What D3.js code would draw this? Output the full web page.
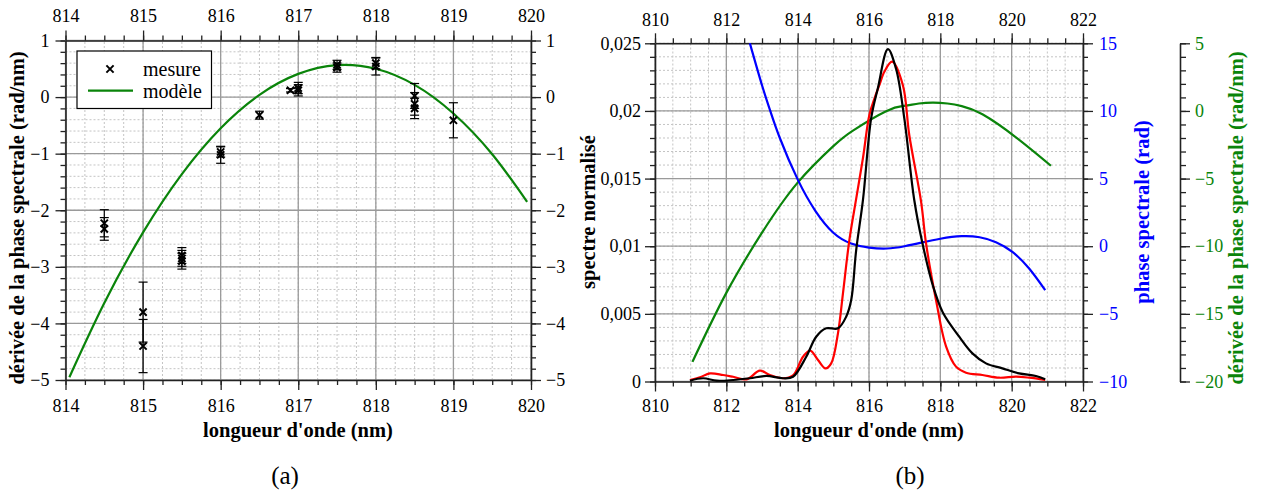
<!DOCTYPE html>
<html><head><meta charset="utf-8">
<script src="https://cdn.jsdelivr.net/npm/d3@7"></script>
<style>
body{margin:0;background:#fff;}
svg text{font-family:"Liberation Serif","Tinos","DejaVu Serif","Times New Roman",Times,serif;}
</style></head><body>
<svg id="c" width="1262" height="493" font-family="Liberation Serif, Tinos, DejaVu Serif, serif"></svg>
<script>
// ---------- Panel (a) data ----------
const mesureLambda = [814.5, 814.5, 815, 815, 815.5, 815.5, 815.5, 816, 816, 816.5, 816.9, 817, 817, 817.5, 817.5, 818, 818, 818.5, 818.5, 818.5, 819];
const mesureDeriv  = [-2.23, -2.33, -3.8, -4.4, -2.8, -2.85, -2.9, -0.97, -1.02, -0.32, 0.12, 0.12, 0.16, 0.52, 0.57, 0.54, 0.6, 0.02, -0.12, -0.2, -0.41];
const mesureErr    = [0.24, 0.2, 0.53, 0.47, 0.14, 0.14, 0.14, 0.09, 0.15, 0.07, 0.03, 0.1, 0.1, 0.08, 0.08, 0.15, 0.1, 0.22, 0.2, 0.18, 0.31];
const modeleLambda = [814.05, 814.5, 815, 815.5, 816, 816.5, 817, 817.5, 818, 818.5, 819, 819.5, 819.95];
const modeleDeriv  = [-4.95, -3.64, -2.39, -1.36, -0.55, 0.04, 0.41, 0.566, 0.50, 0.215, -0.29, -1.01, -1.85];
const xTicksA = [814, 815, 816, 817, 818, 819, 820];
const xLabelsA = ["814", "815", "816", "817", "818", "819", "820"];
const yTicksA = [-5, -4, -3, -2, -1, 0, 1];
const yLabelsA = ["\u22125", "\u22124", "\u22123", "\u22122", "\u22121", "0", "1"];

// ---------- Panel (b) data ----------
const specNoirLambda = [810.98, 811.35, 811.73, 812.19, 812.66, 813.12, 813.59, 813.87, 814.24, 814.52, 814.8, 815.13, 815.36, 815.5, 815.64, 815.83, 816.06, 816.25, 816.53, 816.76, 816.99, 817.27, 817.5, 817.79, 818.07, 818.53, 818.9, 819.28, 819.74, 820.21, 820.68, 820.94];
const specNoir       = [0.00006, 0.00024, 0.00006, 0.00011, 0.00024, 0.00041, 0.00024, 0.00035, 0.00183, 0.00331, 0.00393, 0.00393, 0.00479, 0.0060, 0.0097, 0.0134, 0.01945, 0.0217, 0.02457, 0.0231, 0.01945, 0.0134, 0.0102, 0.0071, 0.0051, 0.00331, 0.00208, 0.00134, 0.00097, 0.0006, 0.00041, 0.00016];
const specRougeLambda = [810.98, 811.26, 811.54, 811.91, 812.19, 812.57, 812.94, 813.22, 813.59, 813.87, 814.15, 814.35, 814.57, 814.78, 814.94, 815.13, 815.27, 815.45, 815.64, 815.83, 816.01, 816.15, 816.29, 816.43, 816.65, 816.95, 817.13, 817.46, 817.6, 817.88, 818.16, 818.44, 818.72, 819.18, 819.65, 820.12, 820.49, 820.94];
const specRouge       = [0.00011, 0.00031, 0.0006, 0.00048, 0.00035, 0.00016, 0.0008, 0.00048, 0.00024, 0.00045, 0.00183, 0.00228, 0.00159, 0.00097, 0.00134, 0.00356, 0.00652, 0.01046, 0.0135, 0.0165, 0.0197, 0.0209, 0.0219, 0.0229, 0.02364, 0.0219, 0.0182, 0.0133, 0.0102, 0.0060, 0.0026, 0.0011, 0.00065, 0.00048, 0.00028, 0.00036, 0.00028, 0.00011];
const phaseLambda = [812.66, 813.0, 813.22, 813.5, 814.0, 814.5, 815.0, 815.5, 816.0, 816.5, 817.0, 817.5, 818.0, 818.6, 819.1, 819.56, 820.02, 820.49, 820.94];
const phase       = [15.0, 11.9, 10.1, 8.0, 4.94, 2.6, 1.0, 0.2, -0.1, -0.17, 0.0, 0.28, 0.55, 0.74, 0.66, 0.3, -0.42, -1.65, -3.25];
const derivLambda = [811.05, 812.0, 813.0, 814.0, 815.0, 815.55, 816.48, 817.0, 817.4, 817.8, 818.2, 818.6, 819.18, 820.12, 821.1];
const deriv       = [-18.55, -13.45, -9.0, -5.3, -2.6, -1.45, -0.02, 0.38, 0.55, 0.62, 0.55, 0.36, -0.25, -1.95, -4.05];
const xTicksB = [810, 812, 814, 816, 818, 820, 822];
const xLabelsB = ["810", "812", "814", "816", "818", "820", "822"];
const yTicksSpec = [0, 0.005, 0.01, 0.015, 0.02, 0.025];
const yLabelsSpec = ["0", "0,005", "0,01", "0,015", "0,02", "0,025"];
const yTicksPhase = [-10, -5, 0, 5, 10, 15];
const yLabelsPhase = ["\u221210", "\u22125", "0", "5", "10", "15"];
const yTicksDeriv = [-20, -15, -10, -5, 0, 5];
const yLabelsDeriv = ["\u221220", "\u221215", "\u221210", "\u22125", "0", "5"];

// ---------- drawing ----------
const FONT = '"Liberation Serif","Tinos","DejaVu Serif","Times New Roman",Times,serif';
const svg = d3.select('#c');
const GREEN = '#0a840a', BLUE = '#0000ff', RED = '#ff0000';
const TICKFONT = 18, TITLEFONT = 20.5;

function rangeStep(a, b, s) { const out = []; const n = Math.round((b - a) / s); for (let i = 0; i <= n; i++) out.push(+(a + i * s).toFixed(6)); return out; }

function drawGrid(g, x, y, xMinor, yMinor, xMajor, yMajor) {
  const [xa, xb] = x.range(), [ya, yb] = y.range();
  g.append('g').selectAll('line').data(xMinor).join('line')
    .attr('x1', d => x(d)).attr('x2', d => x(d)).attr('y1', ya).attr('y2', yb)
    .attr('stroke', '#c4c4c4').attr('stroke-width', 1).attr('stroke-dasharray', '2,2');
  g.append('g').selectAll('line').data(yMinor).join('line')
    .attr('y1', d => y(d)).attr('y2', d => y(d)).attr('x1', xa).attr('x2', xb)
    .attr('stroke', '#c4c4c4').attr('stroke-width', 1).attr('stroke-dasharray', '2,2');
  g.append('g').selectAll('line').data(xMajor).join('line')
    .attr('x1', d => x(d)).attr('x2', d => x(d)).attr('y1', ya).attr('y2', yb)
    .attr('stroke', '#9a9a9a').attr('stroke-width', 1.3);
  g.append('g').selectAll('line').data(yMajor).join('line')
    .attr('y1', d => y(d)).attr('y2', d => y(d)).attr('x1', xa).attr('x2', xb)
    .attr('stroke', '#9a9a9a').attr('stroke-width', 1.3);
}

function drawAxis(parent, tx, ty, gen, scale, major, labels, minor, pad, color, sizeMaj, sizeMin) {
  const g = parent.append('g').attr('transform', `translate(${tx},${ty})`);
  const gm = g.append('g').call(gen(scale).tickValues(minor).tickSize(sizeMin).tickFormat('').tickSizeOuter(0));
  gm.select('.domain').remove();
  const gM = g.append('g').call(gen(scale).tickValues(major).tickSize(sizeMaj).tickPadding(pad)
    .tickFormat((d, i) => labels[i]).tickSizeOuter(0));
  g.selectAll('.tick line').attr('stroke', '#222').attr('stroke-width', 1.3);
  gM.select('.domain').attr('stroke', '#222').attr('stroke-width', 1.6);
  gM.attr('font-family', FONT).attr('font-size', null);
  gm.attr('font-family', FONT).attr('font-size', null);
  gM.selectAll('text').attr('font-size', TICKFONT).attr('fill', color).attr('font-family', FONT);
  return g;
}
function txt(parent) { return parent.append('text').attr('font-family', FONT); }

// ===== Panel (a) =====
const xA = d3.scaleLinear().domain([814, 820]).range([65.5, 531]);
const yA = d3.scaleLinear().domain([-5, 1]).range([380, 40.5]);
const gA = svg.append('g');
const xMinorA = rangeStep(814, 820, 0.25), yMinorA = rangeStep(-5, 1, 0.2);
drawGrid(gA, xA, yA, xMinorA, yMinorA, xTicksA, yTicksA);
drawAxis(gA, 0, 380, d3.axisBottom, xA, xTicksA, xLabelsA, xMinorA, 9, '#000', 10, 5);
drawAxis(gA, 0, 40.5, d3.axisTop, xA, xTicksA, xLabelsA, xMinorA, 9, '#000', 10, 5);
drawAxis(gA, 65.5, 0, d3.axisLeft, yA, yTicksA, yLabelsA, yMinorA, 6, '#000', 10, 5);
drawAxis(gA, 531, 0, d3.axisRight, yA, yTicksA, yLabelsA, yMinorA, 5, '#000', 10, 5);

const modele = modeleLambda.map((l, i) => [l, modeleDeriv[i]]);
gA.append('path').datum(modele)
  .attr('d', d3.line().x(d => xA(d[0])).y(d => yA(d[1])).curve(d3.curveNatural))
  .attr('fill', 'none').attr('stroke', GREEN).attr('stroke-width', 2.2);

const mes = mesureLambda.map((l, i) => ({ l, v: mesureDeriv[i], e: mesureErr[i] }));
const gm = gA.append('g').attr('stroke', '#000');
mes.forEach(d => {
  const cx = xA(d.l), t = yA(d.v + d.e), b = yA(d.v - d.e), cy = yA(d.v);
  gm.append('line').attr('x1', cx).attr('x2', cx).attr('y1', t).attr('y2', b).attr('stroke-width', 1.2);
  gm.append('line').attr('x1', cx - 4.5).attr('x2', cx + 4.5).attr('y1', t).attr('y2', t).attr('stroke-width', 1.2);
  gm.append('line').attr('x1', cx - 4.5).attr('x2', cx + 4.5).attr('y1', b).attr('y2', b).attr('stroke-width', 1.2);
  gm.append('path').attr('d', `M${cx - 3.6},${cy - 3.6}L${cx + 3.6},${cy + 3.6}M${cx - 3.6},${cy + 3.6}L${cx + 3.6},${cy - 3.6}`)
    .attr('stroke-width', 2);
});

const lg = gA.append('g');
lg.append('rect').attr('x', 77).attr('y', 51).attr('width', 134.5).attr('height', 57.5)
  .attr('fill', '#fff').attr('stroke', '#000').attr('stroke-width', 1.2);
lg.append('path').attr('d', 'M106.4,65.4L113.6,72.6M106.4,72.6L113.6,65.4').attr('stroke', '#000').attr('stroke-width', 2);
lg.append('line').attr('x1', 88).attr('x2', 133).attr('y1', 90.7).attr('y2', 90.7).attr('stroke', GREEN).attr('stroke-width', 2.2);
txt(lg).attr('x', 143).attr('y', 75.5).attr('font-size', 20).text('mesure');
txt(lg).attr('x', 143).attr('y', 97.5).attr('font-size', 20).text('modèle');

txt(gA).attr('x', 298).attr('y', 437).attr('text-anchor', 'middle')
  .attr('font-size', TITLEFONT).attr('font-weight', 'bold').text("longueur d'onde (nm)");
txt(gA).attr('transform', 'translate(24,218) rotate(-90)').attr('text-anchor', 'middle')
  .attr('font-size', TITLEFONT).attr('font-weight', 'bold').text('dérivée de la phase spectrale (rad/nm)');
txt(gA).attr('x', 285).attr('y', 484).attr('text-anchor', 'middle')
  .attr('font-size', 25).text('(a)');

// ===== Panel (b) =====
const xB = d3.scaleLinear().domain([810, 822]).range([655, 1083]);
const ySpec = d3.scaleLinear().domain([0, 0.025]).range([381.5, 43.3]);
const yPhase = d3.scaleLinear().domain([-10, 15]).range([381.5, 43.3]);
const yDeriv = d3.scaleLinear().domain([-20, 5]).range([381.5, 43.3]);
const gB = svg.append('g');
const xMinorB = rangeStep(810, 822, 0.5), yMinorB = rangeStep(0, 0.025, 0.001);
drawGrid(gB, xB, ySpec, xMinorB, yMinorB, xTicksB, yTicksSpec);
drawAxis(gB, 0, 381.5, d3.axisBottom, xB, xTicksB, xLabelsB, xMinorB, 8, '#000', 10, 5);
drawAxis(gB, 0, 43.3, d3.axisTop, xB, xTicksB, xLabelsB, xMinorB, 7, '#000', 10, 5);
drawAxis(gB, 655, 0, d3.axisLeft, ySpec, yTicksSpec, yLabelsSpec, yMinorB, 4, '#000', 10, 5);
drawAxis(gB, 1083, 0, d3.axisRight, yPhase, yTicksPhase, yLabelsPhase, rangeStep(-10, 15, 1), 6, BLUE, 10, 5);
drawAxis(gB, 1180, 0, d3.axisRight, yDeriv, yTicksDeriv, yLabelsDeriv, rangeStep(-20, 5, 1), 5, GREEN, 10, 6);

const lineXY = (xs, ys) => xs.map((l, i) => [l, ys[i]]);
function curve(data, ys, color, crv) {
  gB.append('path').datum(data)
    .attr('d', d3.line().x(d => xB(d[0])).y(d => ys(d[1])).curve(crv))
    .attr('fill', 'none').attr('stroke', color).attr('stroke-width', 2.2).attr('stroke-linejoin', 'round');
}
curve(lineXY(derivLambda, deriv), yDeriv, GREEN, d3.curveNatural);
curve(lineXY(phaseLambda, phase), yPhase, BLUE, d3.curveNatural);
curve(lineXY(specRougeLambda, specRouge), ySpec, RED, d3.curveCatmullRom.alpha(0.5));
curve(lineXY(specNoirLambda, specNoir), ySpec, '#000', d3.curveCatmullRom.alpha(0.5));

txt(gB).attr('x', 869).attr('y', 437).attr('text-anchor', 'middle')
  .attr('font-size', TITLEFONT).attr('font-weight', 'bold').text("longueur d'onde (nm)");
txt(gB).attr('transform', 'translate(595,212) rotate(-90)').attr('text-anchor', 'middle')
  .attr('font-size', TITLEFONT).attr('font-weight', 'bold').text('spectre normalisé');
txt(gB).attr('transform', 'translate(1149,212) rotate(-90)').attr('text-anchor', 'middle')
  .attr('font-size', TITLEFONT).attr('font-weight', 'bold').attr('fill', BLUE).text('phase spectrale (rad)');
txt(gB).attr('transform', 'translate(1243,218) rotate(-90)').attr('text-anchor', 'middle')
  .attr('font-size', TITLEFONT).attr('font-weight', 'bold').attr('fill', GREEN).text('dérivée de la phase spectrale (rad/nm)');
txt(gB).attr('x', 910).attr('y', 484).attr('text-anchor', 'middle')
  .attr('font-size', 25).text('(b)');
</script>
</body></html>
